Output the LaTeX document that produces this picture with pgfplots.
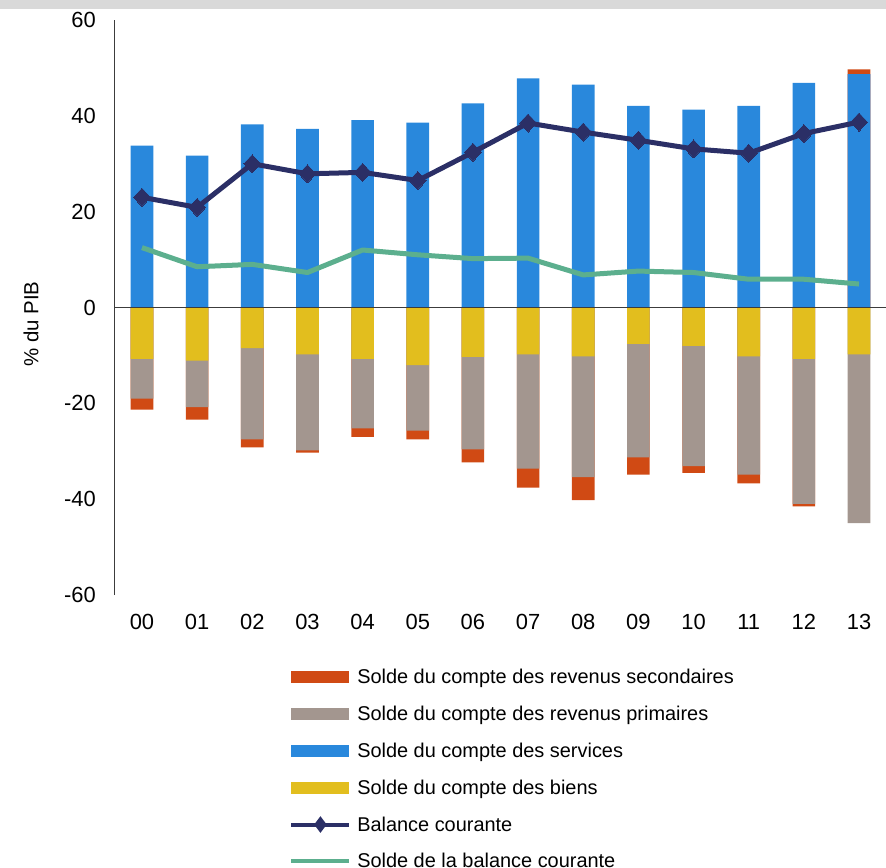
\documentclass[border=0pt]{standalone}
\usepackage{fontspec}
\setmainfont{Liberation Sans}
\usepackage{pgfplots}
\pgfplotsset{compat=1.18}
\definecolor{cBlue}{RGB}{41,136,220}
\definecolor{cYellow}{RGB}{226,190,30}
\definecolor{cGray}{RGB}{163,150,143}
\definecolor{cOrange}{RGB}{208,74,20}
\definecolor{cNavy}{RGB}{43,47,102}
\definecolor{cGreen}{RGB}{92,175,142}
\definecolor{cBand}{RGB}{217,217,217}
\definecolor{cAxis}{RGB}{60,60,60}
\begin{document}
\begin{tikzpicture}
\useasboundingbox (-114.4bp,-273bp) rectangle (771.6bp,595bp);
\fill[cBand] (-114.4bp,585.7bp) rectangle (771.6bp,595bp);
\begin{axis}[
  at={(0,0)}, anchor=south west,
  scale only axis, width=772.2bp, height=575bp,
  xmin=-0.5, xmax=13.5, ymin=-60, ymax=60,
  axis y line*=left, axis x line*=bottom,
  x axis line style={draw=none},
  y axis line style={draw=cAxis, line width=1.3bp},
  xtick={0,1,2,3,4,5,6,7,8,9,10,11,12,13},
  xticklabels={00,01,02,03,04,05,06,07,08,09,10,11,12,13},
  ytick={-60,-40,-20,0,20,40,60},
  yticklabels={-60,-40,-20,0,20,40,60},
  major tick length=0pt,
  tick label style={font=\fontsize{22}{26}\selectfont},
  xticklabel style={yshift=-16bp},
  yticklabel style={xshift=-15bp},
  ylabel={\% du PIB},
  every axis y label/.style={at={(axis description cs:-0.108,0.471)}, rotate=90, anchor=center, font=\fontsize{20.5}{24}\selectfont},
  legend image code/.code={\draw[mark repeat=2,mark phase=2,#1] plot coordinates {(0bp,0bp) (29bp,0bp) (58bp,0bp)};},
  legend style={at={(axis description cs:0.2214,-0.1254)}, anchor=north west,
    draw=none, fill=none, inner sep=0pt, row sep=16.9bp, column sep=0bp,
    font=\fontsize{20}{24}\selectfont},
  legend cell align=left,
]
% cumulative levels of the stacked bars
\addplot[ybar, bar width=22.6bp, bar shift=0pt, fill=cOrange, draw=none, forget plot] coordinates {
(0,-21.3) (1,-23.4) (2,-29.2) (3,-30.3) (4,-27.0) (5,-27.5) (6,-32.3) (7,-37.6) (8,-40.2) (9,-34.9) (10,-34.5) (11,-36.7) (12,-41.5) (13,49.7)};
\addplot[ybar, bar width=22.6bp, bar shift=0pt, fill=cGray, draw=none, forget plot] coordinates {
(0,-19.0) (1,-20.8) (2,-27.5) (3,-29.8) (4,-25.2) (5,-25.7) (6,-29.6) (7,-33.6) (8,-35.4) (9,-31.3) (10,-33.1) (11,-34.9) (12,-41.0) (13,-45.0)};
\addplot[ybar, bar width=22.6bp, bar shift=0pt, fill=cYellow, draw=none, forget plot] coordinates {
(0,-10.7) (1,-11.1) (2,-8.5) (3,-9.8) (4,-10.7) (5,-12.0) (6,-10.3) (7,-9.8) (8,-10.2) (9,-7.6) (10,-8.0) (11,-10.2) (12,-10.7) (13,-9.8)};
\addplot[ybar, bar width=22.6bp, bar shift=0pt, fill=cBlue, draw=none, forget plot] coordinates {
(0,33.8) (1,31.7) (2,38.2) (3,37.3) (4,39.1) (5,38.6) (6,42.6) (7,47.8) (8,46.5) (9,42.1) (10,41.3) (11,42.1) (12,46.9) (13,48.7)};
\addplot[forget plot, draw=cAxis, line width=1.3bp] coordinates {(-0.5,0) (13.5,0)};
\addplot[forget plot, cGreen, line width=5bp, mark=none, line join=round] coordinates {
(0,12.5) (1,8.5) (2,9.0) (3,7.3) (4,12.0) (5,11.0) (6,10.2) (7,10.3) (8,6.8) (9,7.6) (10,7.3) (11,5.9) (12,5.9) (13,4.9)};
\addplot[forget plot, cNavy, line width=5bp, mark=diamond*, mark size=9bp, mark options={solid, line width=0pt, xscale=1.25}] coordinates {
(0,23.0) (1,20.9) (2,30.0) (3,27.9) (4,28.2) (5,26.5) (6,32.4) (7,38.5) (8,36.6) (9,34.9) (10,33.1) (11,32.2) (12,36.3) (13,38.7)};
\addlegendimage{cOrange, line width=11.7bp}
\addlegendentry{Solde du compte des revenus secondaires}
\addlegendimage{cGray, line width=11.7bp}
\addlegendentry{Solde du compte des revenus primaires}
\addlegendimage{cBlue, line width=11.7bp}
\addlegendentry{Solde du compte des services}
\addlegendimage{cYellow, line width=11.7bp}
\addlegendentry{Solde du compte des biens}
\addlegendimage{cNavy, line width=4bp, mark=diamond*, mark size=5bp}
\addlegendentry{Balance courante}
\addlegendimage{cGreen, line width=4bp}
\addlegendentry{Solde de la balance courante}
\end{axis}
\end{tikzpicture}
\end{document}
